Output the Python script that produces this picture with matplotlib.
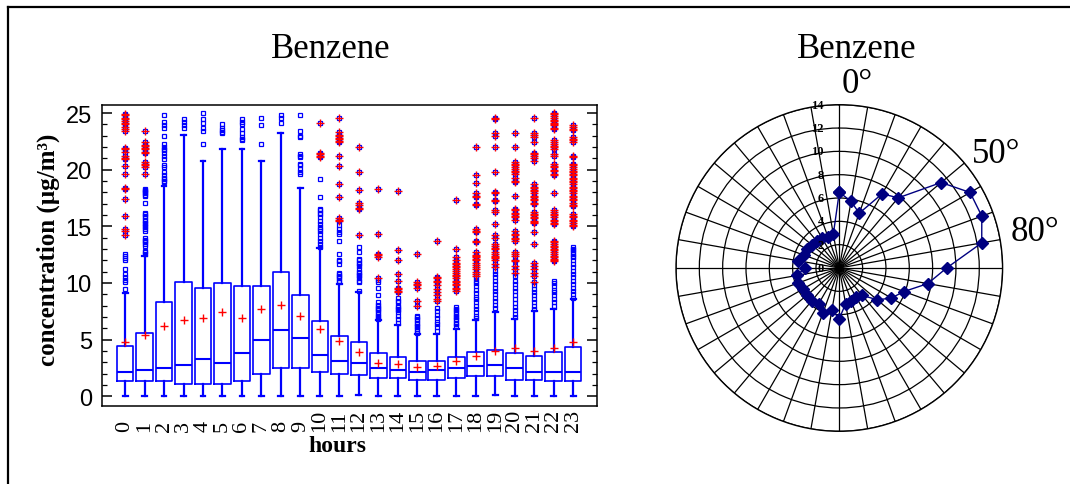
import numpy as np
import matplotlib
matplotlib.use("Agg")
import matplotlib.pyplot as plt
from matplotlib.lines import Line2D
from matplotlib.transforms import offset_copy

# ---------------- hourly benzene statistics ----------------
hours = list(range(24))
hour_labels = [str(h) for h in hours]

whisker_low = [0, 0, 0, 0, 0, 0, 0, 0, 0, 0, 0, 0, 0.15, 0, 0, 0, 0, 0, 0, 0.15, 0, 0, 0, 0]
q1 = [1.32, 1.32, 1.32, 1.11, 1.11, 1.11, 1.32, 1.94, 2.5, 2.5, 2.12, 1.94,
      1.91, 1.62, 1.62, 1.47, 1.47, 1.62, 1.76, 1.76, 1.47, 1.47, 1.32, 1.32]
median = [2.14, 2.29, 2.47, 2.79, 3.32, 2.97, 3.79, 4.97, 5.82, 5.15, 3.62, 3.12,
          2.94, 2.47, 2.29, 2.12, 2.29, 2.47, 2.65, 2.79, 2.47, 2.12, 2.12, 2.12]
q3 = [4.47, 5.59, 8.3, 10.1, 9.6, 9.97, 9.76, 9.76, 10.94, 8.94, 6.65, 5.3,
      4.76, 3.79, 3.44, 3.09, 3.09, 3.44, 3.94, 4.12, 3.79, 3.59, 3.94, 4.32]
whisker_high = [9.1, 12.4, 18.6, 23.1, 20.8, 21.8, 21.8, 20.8, 23.2, 18.4, 13.1, 9.9,
                9.2, 6.7, 6.3, 5.5, 5.5, 5.95, 6.7, 7.4, 6.8, 7.5, 7.7, 8.6]
mean = [4.76, 5.44, 6.23, 6.73, 6.91, 7.41, 6.91, 7.7, 8.06, 7.12, 5.94, 4.85,
        3.94, 2.91, 2.85, 2.56, 2.7, 3.09, 3.59, 4.03, 4.26, 3.97, 4.26, 4.76]

outliers_h00 = [24.9, 24.8, 24.6, 24.5, 24.3, 24.1, 24.0, 23.8, 23.6, 23.4, 21.9, 21.8, 21.6,
                21.2, 21.0, 20.9, 20.3, 19.6, 18.4, 18.3, 17.4, 15.9, 14.8, 14.6, 14.2,
                12.6, 12.4, 12.2, 12.0, 11.2, 10.8, 10.5, 10.3, 10.1, 9.5]
outliers_h01 = [23.4, 22.4, 22.2, 22.1, 21.9, 21.8, 21.6, 21.5, 20.7, 20.5, 20.4, 20.2, 19.6,
                18.3, 18.2, 18.1, 18.0, 17.9, 17.8, 17.7, 17.1, 16.2, 16.1, 15.9, 15.8, 15.6,
                15.5, 15.3, 15.2, 15.0, 14.9, 14.8, 14.6, 14.0, 13.8, 13.7, 13.6, 13.4, 13.3,
                12.8, 12.7, 12.6]
outliers_h02 = [24.8, 24.2, 23.9, 23.7, 23.0, 22.3, 22.0, 21.8, 21.7, 21.5, 21.2, 20.9, 20.4,
                20.2, 19.8, 19.5, 19.3, 19.2, 19.0, 18.9]
outliers_h03 = [24.5, 24.2, 23.9, 23.7]
outliers_h04 = [25.0, 24.5, 24.1, 23.7, 23.4, 22.3]
outliers_h05 = [24.0, 23.7, 23.5, 23.3, 23.2]
outliers_h06 = [24.5, 24.2, 24.0, 23.6, 23.2, 22.9, 22.7, 22.6]
outliers_h07 = [24.6, 23.9, 22.3]
outliers_h08 = [24.8, 24.6, 24.1]
outliers_h09 = [24.8, 23.4, 23.0, 22.9, 21.4, 21.2, 21.1, 20.5, 20.4, 20.1, 19.8, 19.6]
outliers_h10 = [24.1, 21.5, 21.4, 21.2, 21.1, 19.2, 17.6, 16.5, 16.4, 16.2, 16.1, 15.8, 15.5,
                15.2, 14.9, 14.8, 14.6, 14.3, 14.0, 13.7, 13.4, 13.2]
outliers_h11 = [24.6, 23.3, 23.1, 23.0, 22.8, 22.7, 22.5, 22.4, 21.2, 20.3, 18.7, 17.6, 15.7,
                15.6, 15.5, 15.1, 14.8, 14.5, 14.3, 13.7, 12.6, 12.0, 11.9, 11.7, 10.9, 10.8,
                10.6, 10.5, 10.4, 10.2, 10.1]
outliers_h12 = [22.0, 19.8, 18.2, 17.1, 16.9, 16.6, 16.5, 14.2, 13.2, 12.7, 12.1, 12.0, 11.8,
                11.7, 11.5, 11.2, 11.0, 10.9, 10.7, 10.6, 10.4, 10.2, 10.1, 9.3]
outliers_h13 = [18.3, 14.3, 12.6, 12.5, 12.3, 10.4, 10.3, 10.1, 9.6, 8.9, 8.3, 8.1, 8.0, 7.8,
                7.7, 7.6, 7.4, 7.3, 7.1, 7.0, 6.8]
outliers_h14 = [18.1, 12.9, 12.0, 10.8, 10.2, 9.6, 9.5, 9.3, 9.2, 8.7, 8.4, 8.3, 8.0, 7.9, 7.7,
                7.6, 7.4, 7.1, 6.8, 6.5]
outliers_h15 = [12.6, 10.1, 9.9, 9.8, 9.6, 8.4, 8.0, 7.1, 7.0, 6.8, 6.7, 6.5, 6.4, 6.2, 6.1,
                5.9, 5.8, 5.6]
outliers_h16 = [13.7, 10.5, 10.4, 10.2, 10.1, 9.8, 9.5, 9.2, 8.9, 8.6, 8.4, 7.8, 7.5, 7.2, 6.9,
                6.6, 6.4, 6.1, 5.8]
outliers_h17 = [17.3, 13.0, 12.3, 12.0, 11.8, 11.7, 11.5, 11.4, 11.2, 11.1, 10.9, 10.7, 10.6,
                10.4, 10.2, 10.1, 9.9, 9.8, 9.6, 9.5, 9.3, 7.9, 7.7, 7.6, 7.4, 7.3, 7.1, 7.0,
                6.8, 6.7, 6.5, 6.4, 6.2]
outliers_h18 = [22.0, 19.5, 18.8, 17.9, 17.7, 17.6, 17.0, 16.9, 14.8, 14.6, 14.5, 13.7, 13.6,
                12.7, 12.5, 12.4, 12.3, 12.1, 12.0, 11.8, 11.6, 11.4, 11.2, 11.0, 10.8, 10.6,
                10.4, 10.2, 10.0, 9.7, 9.4, 9.1, 8.8, 8.6, 8.3, 8.0, 7.7, 7.4, 7.1, 6.9]
outliers_h19 = [24.6, 24.5, 23.2, 23.0, 22.0, 19.8, 18.0, 17.9, 17.3, 17.2, 16.4, 16.3, 15.2,
                14.2, 14.0, 13.4, 13.3, 13.1, 13.0, 12.7, 12.6, 12.4, 12.3, 12.2, 12.0, 11.7,
                11.4, 11.1, 10.8, 10.5, 10.2, 9.9, 9.6, 9.3, 9.0, 8.7, 8.4, 8.1, 7.8]
outliers_h20 = [23.2, 22.0, 20.7, 20.5, 20.4, 20.2, 20.1, 19.9, 19.8, 19.6, 19.3, 19.0, 18.9,
                17.7, 16.5, 16.4, 16.2, 16.1, 15.9, 15.8, 15.6, 14.6, 14.3, 14.2, 14.0, 13.9,
                13.7, 12.7, 12.6, 12.4, 12.0, 11.9, 11.5, 11.2, 10.9, 10.6, 10.2, 9.9, 9.6,
                9.3, 8.9, 8.6, 8.2, 7.9, 7.6, 7.3, 7.0]
outliers_h21 = [24.6, 23.2, 23.1, 22.9, 22.4, 21.5, 21.4, 21.2, 21.0, 20.8, 18.7, 18.5, 18.4,
                18.2, 18.1, 17.9, 17.7, 17.6, 17.4, 17.3, 17.1, 17.0, 16.3, 16.1, 16.0, 15.8,
                15.7, 15.5, 15.4, 15.3, 14.5, 13.4, 11.8, 11.5, 11.2, 10.9, 10.6, 10.1, 9.8,
                9.5, 9.2, 8.9, 8.6, 8.3, 8.0, 7.7]
outliers_h22 = [25.0, 24.9, 24.7, 24.6, 24.4, 24.3, 24.1, 24.0, 23.9, 23.7, 23.6, 22.6, 22.4,
                22.3, 22.1, 22.0, 21.8, 21.4, 21.2, 20.5, 20.3, 20.2, 20.0, 19.9, 19.6, 19.5,
                17.9, 16.4, 16.3, 16.1, 16.0, 15.8, 15.6, 15.5, 15.3, 15.2, 13.7, 13.6, 13.4,
                13.3, 13.2, 13.0, 12.9, 12.7, 12.6, 12.4, 12.3, 12.1, 12.0, 11.9, 10.2, 10.0,
                9.7, 9.4, 9.2, 8.9, 8.6, 8.3, 8.0]
outliers_h23 = [23.9, 23.8, 23.6, 23.5, 22.9, 22.7, 22.6, 22.4, 21.2, 21.1, 20.5, 20.4, 20.2,
                20.1, 19.9, 19.8, 19.6, 19.5, 19.3, 19.2, 19.0, 18.9, 18.7, 18.5, 18.4, 18.2,
                18.1, 17.9, 17.7, 17.6, 17.4, 17.3, 17.1, 16.9, 16.8, 16.1, 15.9, 15.8, 15.6,
                15.5, 15.3, 15.1, 15.0, 13.2, 13.0, 12.9, 12.7, 12.6, 12.4, 12.3, 12.0, 11.7,
                11.4, 11.1, 10.8, 10.5, 10.2, 9.9, 9.6, 9.3, 9.0, 8.7]

outliers = [outliers_h00, outliers_h01, outliers_h02, outliers_h03, outliers_h04, outliers_h05,
            outliers_h06, outliers_h07, outliers_h08, outliers_h09, outliers_h10, outliers_h11,
            outliers_h12, outliers_h13, outliers_h14, outliers_h15, outliers_h16, outliers_h17,
            outliers_h18, outliers_h19, outliers_h20, outliers_h21, outliers_h22, outliers_h23]

# ---------------- directional (rose) benzene means ----------------
directions_deg = list(range(0, 360, 10))
direction_conc = [6.5, 5.8, 5.0, 7.35, 7.85, 11.4, 12.95, 13.0, 12.4, 9.2, 7.7, 5.9,
                  5.15, 4.25, 3.05, 2.9, 3.0, 3.1, 4.35, 3.65, 4.1, 3.55, 3.7, 3.65,
                  3.6, 3.75, 3.7, 2.95, 3.6, 3.2, 3.2, 3.05, 3.0, 2.95, 2.85, 2.95]
radial_ticks = [0, 2, 4, 6, 8, 10, 12, 14]

# ---------------- figure ----------------
plt.rcParams['font.family'] = ['Liberation Serif', 'DejaVu Serif']
W, H = 1070, 485
fig = plt.figure(figsize=(W / 100, H / 100), dpi=100)
fig.patch.set_facecolor('white')

# outer frame (left and top edges)
fig.add_artist(Line2D([8 / W, 8 / W], [0, 1 - 8 / H], color='black', lw=1.6,
                      transform=fig.transFigure))
fig.add_artist(Line2D([8 / W, 1], [1 - 8 / H, 1 - 8 / H], color='black', lw=1.6,
                      transform=fig.transFigure))

# ---- hourly box plot ----
ax = fig.add_axes([101.7 / W, 1 - 406.7 / H, 494.8 / W, 300.4 / H])
stats = []
for i in range(len(hours)):
    stats.append(dict(whislo=whisker_low[i], q1=q1[i], med=median[i], q3=q3[i],
                      whishi=whisker_high[i], mean=mean[i], fliers=outliers[i]))

blue = '#0000ff'
ax.bxp(stats, positions=hours, widths=0.85, capwidths=0.25, showmeans=True,
       boxprops=dict(color=blue, lw=1.2),
       medianprops=dict(color=blue, lw=1.5),
       whiskerprops=dict(color=blue, lw=1.6),
       capprops=dict(color=blue, lw=1.6),
       meanprops=dict(marker='+', markeredgecolor='red', markersize=6, markeredgewidth=1.0),
       flierprops=dict(marker='s', markerfacecolor='none', markeredgecolor=blue,
                       markersize=3.4, markeredgewidth=0.9))

# extreme values (beyond Q3 + 3 IQR) flagged with a red cross
for i, h in enumerate(hours):
    limit = q3[i] + 3 * (q3[i] - q1[i])
    ext = [v for v in outliers[i] if v > limit]
    if ext:
        ax.plot([h] * len(ext), ext, linestyle='none', marker='+', color='red',
                markersize=5.5, markeredgewidth=1.0, zorder=4)

ax.set_xlim(-1.2, 24.2)
ax.set_ylim(-0.83, 25.68)
ax.set_yticks([0, 5, 10, 15, 20, 25])
ax.set_yticks(np.arange(0, 26, 1), minor=True)
ax.tick_params(axis='y', which='major', direction='in', length=7, width=1.1,
               left=True, right=True, pad=7)
ax.tick_params(axis='y', which='minor', direction='in', length=3.5, width=0.9,
               left=True, right=True)
for lbl in ax.get_yticklabels():
    lbl.set_fontfamily('Liberation Sans')
    lbl.set_fontsize(17)

ax.set_xticks(hours)
ax.set_xticklabels(hour_labels, rotation=90, fontsize=16, va='bottom')
ax.tick_params(axis='x', which='both', length=0, pad=18)
for sp in ax.spines.values():
    sp.set_linewidth(1.1)

ax.set_xlabel('hours', fontsize=17, fontweight='bold')
ax.xaxis.set_label_coords(0.4755, -0.134)
ax.xaxis.label.set_va('center')
ax.set_ylabel('concentration (µg/m³)', fontsize=18, fontweight='bold')
ax.yaxis.set_label_coords(-0.1085, 0.5216)
ax.yaxis.label.set_va('center')

fig.text(331 / W, 1 - 50 / H, 'Benzene', fontsize=25, ha='center', va='center')

# ---- directional polar plot ----
pax = fig.add_axes([676 / W, 1 - 432.3 / H, 326.6 / W, 326.6 / H], projection='polar')
pax.set_theta_zero_location('N')
pax.set_theta_direction(-1)
pax.set_ylim(0, 14)
pax.set_rticks(radial_ticks[1:])
pax.set_yticklabels([])
pax.set_thetagrids(directions_deg, labels=[''] * len(directions_deg))
pax.grid(True, color='black', lw=0.9, linestyle='-')
pax.spines['polar'].set_linewidth(1.0)
pax.tick_params(axis='x', length=0, pad=0)

theta = np.deg2rad(directions_deg + [directions_deg[0]])
radius = direction_conc + [direction_conc[0]]
pax.plot(theta, radius, color='#000080', lw=1.0, marker='D', markersize=6,
         markerfacecolor='#000080', markeredgecolor='#000080', clip_on=False, zorder=5)

lab_tr = offset_copy(pax.transData, fig=fig, x=-11, y=0, units='points')
for r in radial_ticks:
    pax.text(0, r, str(r), transform=lab_tr, ha='right', va='center',
             fontsize=9, fontweight='bold', zorder=6)

for ang, rr, txt in [(5.6, 15.9, '0°'), (53.9, 16.6, '50°'), (79.5, 17.1, '80°')]:
    pax.text(np.deg2rad(ang), rr, txt, fontsize=25, ha='center', va='center', clip_on=False)

fig.text(856.5 / W, 1 - 50 / H, 'Benzene', fontsize=25, ha='center', va='center')

fig.savefig('out.png', dpi=100)
